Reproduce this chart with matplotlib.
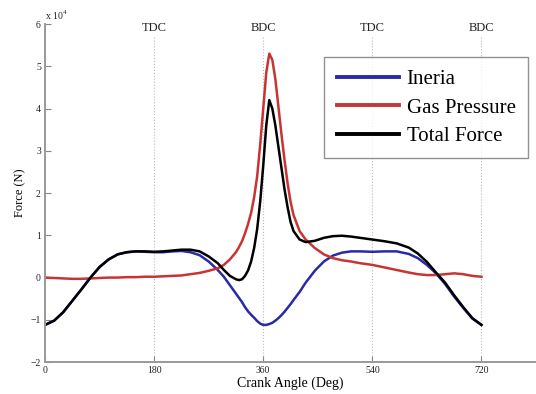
import matplotlib
matplotlib.use("Agg")
import matplotlib.pyplot as plt

plt.rcParams['font.family'] = ['Liberation Serif', 'DejaVu Serif']
plt.rcParams['mathtext.fontset'] = 'custom'
plt.rcParams['mathtext.rm'] = 'Liberation Serif'

# Crank angle (deg)
angle = [0, 15, 30, 45, 60, 75, 90, 105, 120, 135, 150, 165, 180, 195, 210, 225,
         240, 255, 270, 285, 295, 305, 315, 320, 325, 330, 335, 340, 345, 350, 355,
         360, 365, 370, 375, 380, 385, 390, 395, 400, 405, 410, 420, 430, 445, 460,
         475, 490, 505, 520, 540, 560, 580, 600, 615, 630, 645, 660, 675, 690, 705, 720]

# Forces in units of 1e4 N
inertia = [-1.12, -1.02, -0.82, -0.55, -0.28, 0.0, 0.25, 0.43, 0.55, 0.6, 0.62, 0.61, 0.6, 0.6, 0.62, 0.63,
           0.6, 0.53, 0.38, 0.18, 0.02, -0.18, -0.38, -0.48, -0.58, -0.7, -0.8, -0.88, -0.95, -1.03, -1.09,
           -1.12, -1.12, -1.1, -1.07, -1.02, -0.96, -0.89, -0.81, -0.72, -0.63, -0.53, -0.34, -0.12, 0.16, 0.38,
           0.52, 0.59, 0.62, 0.62, 0.61, 0.62, 0.62, 0.56, 0.46, 0.3, 0.1, -0.15, -0.45, -0.72, -0.97, -1.12]

gas = [0.0, -0.01, -0.02, -0.03, -0.03, -0.02, -0.01, 0.0, 0.0, 0.01, 0.01, 0.02, 0.02, 0.03, 0.04, 0.05,
       0.08, 0.11, 0.16, 0.22, 0.3, 0.43, 0.6, 0.72, 0.86, 1.05, 1.27, 1.53, 1.9, 2.4, 3.15,
       4.0, 4.85, 5.3, 5.15, 4.7, 4.05, 3.4, 2.8, 2.25, 1.8, 1.48, 1.1, 0.9, 0.7, 0.55,
       0.46, 0.41, 0.38, 0.34, 0.3, 0.24, 0.18, 0.12, 0.08, 0.06, 0.06, 0.08, 0.1, 0.08, 0.04, 0.02]

total = [-1.12, -1.02, -0.82, -0.55, -0.28, 0.0, 0.25, 0.43, 0.55, 0.6, 0.62, 0.62, 0.61, 0.62, 0.64, 0.66,
         0.66, 0.62, 0.5, 0.34, 0.18, 0.04, -0.04, -0.06, -0.04, 0.04, 0.17, 0.38, 0.7, 1.15, 1.8,
         2.65, 3.6, 4.2, 4.0, 3.6, 3.1, 2.6, 2.1, 1.68, 1.32, 1.1, 0.9, 0.84, 0.87, 0.94,
         0.98, 0.99, 0.97, 0.94, 0.9, 0.86, 0.81, 0.71, 0.57, 0.37, 0.12, -0.12, -0.42, -0.7, -0.96, -1.12]

dead_centers = [180, 360, 540, 720]
dead_labels = ['TDC', 'BDC', 'TDC', 'BDC']
xticks = [0, 180, 360, 540, 720]
yticks = [-2, -1, 0, 1, 2, 3, 4, 5, 6]

fig = plt.figure(figsize=(5.36, 3.94), dpi=100)
ax = fig.add_axes([0.084, 0.081, 0.916, 0.858])

for xc, lab in zip(dead_centers, dead_labels):
    ax.plot([xc, xc], [-2, 5.72], color='#bbbbbb', lw=0.8, ls=':', zorder=0)
    ax.text(xc, 5.9, lab, ha='center', va='center', fontsize=9, color='#222222')

ax.plot(angle, inertia, color='#2a2aa8', lw=1.8, label='Ineria')
ax.plot(angle, gas, color='#c83434', lw=1.8, label='Gas Pressure')
ax.plot(angle, total, color='#000000', lw=1.8, label='Total Force')

ax.set_xlim(0, 810)
ax.set_ylim(-2, 6)
ax.set_xticks(xticks)
ax.set_yticks(yticks)
ax.tick_params(direction='in', length=4, width=0.8, colors='#888888', labelsize=7,
               labelcolor='#222222', pad=3)
for s in ['top', 'right']:
    ax.spines[s].set_visible(False)
for s in ['left', 'bottom']:
    ax.spines[s].set_color('#999999')
    ax.spines[s].set_linewidth(1.4)

ax.text(0.0, 1.005, r'x 10$^4$', transform=ax.transAxes, ha='left', va='bottom',
        fontsize=7, color='#222222')
ax.set_xlabel('Crank Angle (Deg)', fontsize=10, labelpad=1)
ax.set_ylabel('Force (N)', fontsize=9, labelpad=3)

leg = ax.legend(loc='upper right', bbox_to_anchor=(0.984, 0.902), borderaxespad=0,
                fontsize=15, frameon=True, fancybox=False, handlelength=3.0,
                handletextpad=0.35, labelspacing=0.42, borderpad=0.6)
leg.get_frame().set_edgecolor('#777777')
leg.get_frame().set_linewidth(1.0)
for line in leg.get_lines():
    line.set_linewidth(2.8)

fig.savefig('out.png', dpi=100)
